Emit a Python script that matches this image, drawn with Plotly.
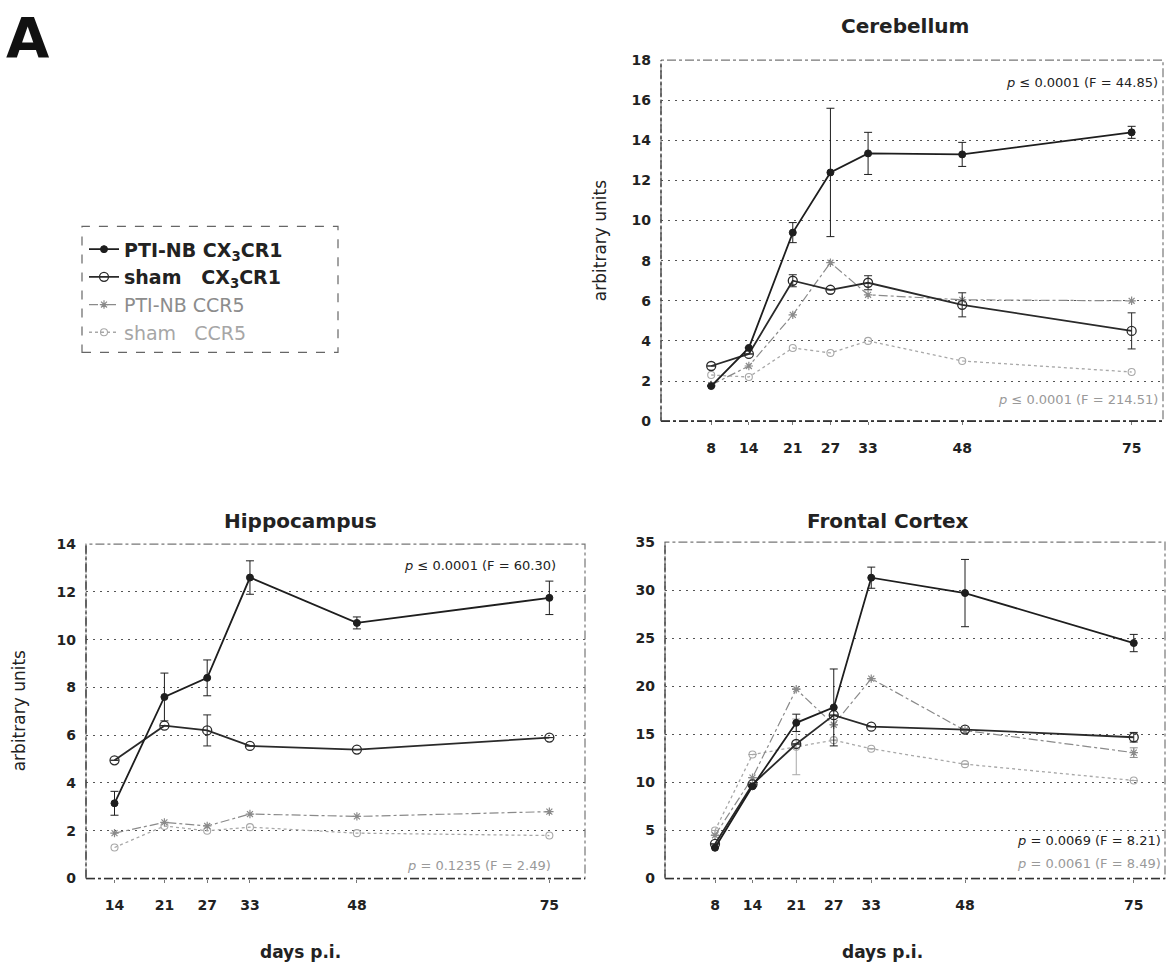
import plotly.graph_objects as go

W, H = 1167, 979

# ---------------- data ----------------
days_cb = [8, 14, 21, 27, 33, 48, 75]
days_hc = [14, 21, 27, 33, 48, 75]
days_fc = [8, 14, 21, 27, 33, 48, 75]

series_names = [
    "<b>PTI-NB CX<sub>3</sub>CR1</b>",
    "<b>sham   CX<sub>3</sub>CR1</b>",
    "<span style='color:#8c8c8c'>PTI-NB CCR5</span>",
    "<span style='color:#a6a6a6'>sham   CCR5</span>",
]

# Cerebellum
cb_pti_cx3 = [1.75, 3.65, 9.4, 12.4, 13.35, 13.3, 14.4]
cb_pti_cx3_err = [None, None, 0.5, 3.2, 1.05, 0.6, 0.3]
cb_sham_cx3 = [2.75, 3.35, 7.0, 6.55, 6.9, 5.8, 4.5]
cb_sham_cx3_err = [None, None, 0.3, None, 0.35, 0.6, 0.9]
cb_pti_ccr5 = [1.8, 2.75, 5.3, 7.9, 6.3, 6.05, 6.0]
cb_sham_ccr5 = [2.3, 2.2, 3.65, 3.4, 4.0, 3.0, 2.45]

# Hippocampus
hc_pti_cx3 = [3.15, 7.6, 8.4, 12.6, 10.7, 11.75]
hc_pti_cx3_err = [0.5, 1.0, 0.75, 0.7, 0.25, 0.7]
hc_sham_cx3 = [4.95, 6.4, 6.2, 5.55, 5.4, 5.9]
hc_sham_cx3_err = [None, None, 0.65, None, None, None]
hc_pti_ccr5 = [1.9, 2.35, 2.2, 2.7, 2.6, 2.8]
hc_sham_ccr5 = [1.3, 2.2, 2.0, 2.15, 1.9, 1.8]

# Frontal cortex
fc_pti_cx3 = [3.2, 9.6, 16.2, 17.8, 31.3, 29.7, 24.5]
fc_pti_cx3_err = [None, None, 0.9, 4.0, 1.1, 3.5, 0.9]
fc_sham_cx3 = [3.6, 9.8, 14.0, 17.0, 15.8, 15.5, 14.7]
fc_sham_cx3_err = [None, None, None, None, None, None, 0.5]
fc_pti_ccr5 = [4.5, 10.5, 19.7, 16.0, 20.8, 15.4, 13.1]
fc_pti_ccr5_err = [None, None, None, None, None, None, 0.5]
fc_sham_ccr5 = [5.0, 12.9, 13.7, 14.4, 13.5, 11.9, 10.2]
fc_sham_ccr5_err = [None, None, 2.9, None, None, None, None]

# ---------------- style ----------------
FONT = "DejaVu Sans"
styles = [
    dict(line=dict(color="#1e1e1e", width=1.8),
         marker=dict(symbol="circle", size=7, color="#1e1e1e", line=dict(color="#1e1e1e", width=1))),
    dict(line=dict(color="#2a2a2a", width=1.8),
         marker=dict(symbol="circle-open", size=9, color="#2a2a2a", line=dict(width=1.3))),
    dict(line=dict(color="#8a8a8a", width=1.2, dash="dashdot"),
         marker=dict(symbol="asterisk-open", size=7, color="#8a8a8a", line=dict(width=1.2))),
    dict(line=dict(color="#a8a8a8", width=1.3, dash="dot"),
         marker=dict(symbol="circle-open", size=7, color="#a8a8a8", line=dict(width=1.1))),
]


def px(x):
    return x / W


def py(y):
    return 1 - y / H


fig = go.Figure()

panels = [
    ("x", "y", days_cb,
     [(cb_pti_cx3, cb_pti_cx3_err), (cb_sham_cx3, cb_sham_cx3_err),
      (cb_pti_ccr5, None), (cb_sham_ccr5, None)], True),
    ("x2", "y2", days_hc,
     [(hc_pti_cx3, hc_pti_cx3_err), (hc_sham_cx3, hc_sham_cx3_err),
      (hc_pti_ccr5, None), (hc_sham_ccr5, None)], False),
    ("x3", "y3", days_fc,
     [(fc_pti_cx3, fc_pti_cx3_err), (fc_sham_cx3, fc_sham_cx3_err),
      (fc_pti_ccr5, fc_pti_ccr5_err), (fc_sham_ccr5, fc_sham_ccr5_err)], False),
]

for xa, ya, days, ser, show in panels:
    for i in [3, 2, 1, 0]:
        vals, err = ser[i]
        st = styles[i]
        kw = {}
        if err is not None:
            kw["error_y"] = dict(type="data", array=err, visible=True,
                                 color=st["line"]["color"], thickness=1, width=4)
        fig.add_trace(go.Scatter(
            x=days, y=vals, mode="lines+markers", name=series_names[i],
            line=st["line"], marker=st["marker"], xaxis=xa, yaxis=ya,
            showlegend=show, legendrank=i, **kw))

# ---------------- axes ----------------
tickfont = dict(family=FONT, size=14, color="#222", weight="bold")
common_x = dict(showgrid=False, zeroline=False, showline=False, ticks="outside",
                ticklen=3, tickcolor="#777", tickfont=tickfont, ticklabelstandoff=11)
common_y = dict(showgrid=True, gridcolor="#555", griddash="2px,5px", gridwidth=1,
                zeroline=False, showline=False, ticks="",
                tickfont=tickfont, ticklabelstandoff=9)

dom_cb_x = [px(661), px(1163)]
dom_cb_y = [py(420), py(53)]
dom_hc_x = [px(86), px(585)]
dom_hc_y = [py(885), py(545)]
dom_fc_x = [px(665), px(1165)]
dom_fc_y = [py(885), py(543)]

fig.update_layout(
    xaxis=dict(domain=dom_cb_x, range=[0, 80], tickvals=days_cb, anchor="y", **common_x),
    yaxis=dict(domain=dom_cb_y, range=[0, 18], dtick=2, anchor="x", **common_y),
    xaxis2=dict(domain=dom_hc_x, range=[10, 80], tickvals=days_hc, anchor="y2", **common_x),
    yaxis2=dict(domain=dom_hc_y, range=[0, 14], dtick=2, anchor="x2", **common_y),
    xaxis3=dict(domain=dom_fc_x, range=[0, 80], tickvals=days_fc, anchor="y3", **common_x),
    yaxis3=dict(domain=dom_fc_y, range=[0, 35], dtick=5, anchor="x3", **common_y),
)

# dash-dot frames around plot areas
shapes = []
for xa, ya in [("x", "y"), ("x2", "y2"), ("x3", "y3")]:
    shapes.append(dict(type="rect", xref=f"{xa} domain", yref=f"{ya} domain",
                       x0=0, x1=1, y0=0, y1=1,
                       line=dict(color="#777", width=1.2, dash="dashdot")))
    shapes.append(dict(type="line", xref=f"{xa} domain", yref=f"{ya} domain",
                       x0=0, x1=1, y0=0, y1=0, line=dict(color="#333", width=1.6, dash="dashdot")))
    shapes.append(dict(type="line", xref=f"{xa} domain", yref=f"{ya} domain",
                       x0=0, x1=0, y0=0, y1=1, line=dict(color="#444", width=1.4, dash="dashdot")))
# legend box
shapes.append(dict(type="rect", xref="paper", yref="paper",
                   x0=px(82), x1=px(338), y0=py(350), y1=py(222),
                   line=dict(color="#666", width=1.2, dash="dash")))

annotations = []


def ann(text, x, y, size, color="#222", xref="paper", yref="paper", xanchor="center",
        yanchor="middle", angle=0):
    annotations.append(dict(text=text, x=x, y=y, xref=xref, yref=yref, showarrow=False,
                            xanchor=xanchor, yanchor=yanchor, textangle=angle,
                            font=dict(family=FONT, size=size, color=color)))


ann("<b>A</b>", px(28), py(30), 56, color="#111")
ann("<b>Cerebellum</b>", px(905), py(18), 20)
ann("<b>Hippocampus</b>", px(300), py(522), 20)
ann("<b>Frontal Cortex</b>", px(888), py(522), 20)
ann("arbitrary units", px(600), py(237), 17, angle=-90)
ann("arbitrary units", px(19), py(715), 17, angle=-90)
ann("<b>days p.i.</b>", px(300), py(960), 17)
ann("<b>days p.i.</b>", px(882), py(960), 17)

ann("<i>p</i> ≤ 0.0001 (F = 44.85)", 0.995, 16.9, 13, xref="x domain", yref="y", xanchor="right")
ann("<i>p</i> ≤ 0.0001 (F = 214.51)", 0.995, 1.1, 13, color="#999", xref="x domain", yref="y", xanchor="right")
ann("<i>p</i> ≤ 0.0001 (F = 60.30)", 0.945, 13.1, 13, xref="x2 domain", yref="y2", xanchor="right")
ann("<i>p</i> = 0.1235 (F = 2.49)", 0.935, 0.55, 13, color="#999", xref="x2 domain", yref="y2", xanchor="right")
ann("<i>p</i> = 0.0069 (F = 8.21)", 0.995, 4.0, 13, xref="x3 domain", yref="y3", xanchor="right")
ann("<i>p</i> = 0.0061 (F = 8.49)", 0.995, 1.6, 13, color="#999", xref="x3 domain", yref="y3", xanchor="right")

fig.update_layout(
    width=W, height=H, autosize=False,
    margin=dict(l=0, r=0, t=0, b=0),
    paper_bgcolor="white", plot_bgcolor="white",
    shapes=shapes, annotations=annotations,
    legend=dict(x=px(84), y=py(226), xanchor="left", yanchor="top",
                bgcolor="rgba(0,0,0,0)", borderwidth=0,
                font=dict(family=FONT, size=19, color="#222"),
                traceorder="normal", tracegroupgap=0, itemwidth=30),
    font=dict(family=FONT),
)

fig.write_html("out.html")
